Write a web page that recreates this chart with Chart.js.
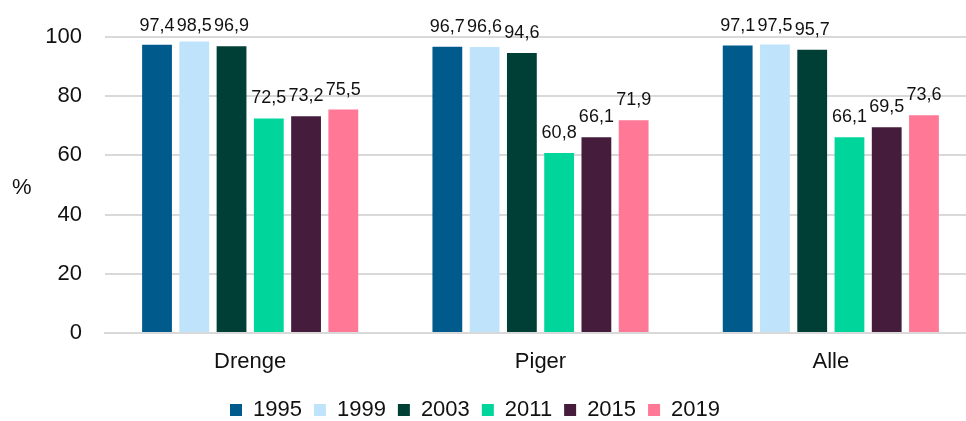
<!DOCTYPE html>
<html>
<head>
<meta charset="utf-8">
<script src="https://cdn.jsdelivr.net/npm/chart.js@4"></script>
<style>
  html,body{margin:0;padding:0;background:#fff;overflow:hidden;}
  #wrap{width:976px;height:421px;position:relative;}
</style>
</head>
<body>
<div id="wrap"><canvas id="chart"></canvas></div>
<script>
const categories = ['Drenge','Piger','Alle'];
const years = ['1995','1999','2003','2011','2015','2019'];
const v1995 = [97.4, 96.7, 97.1];
const v1999 = [98.5, 96.6, 97.5];
const v2003 = [96.9, 94.6, 95.7];
const v2011 = [72.5, 60.8, 66.1];
const v2015 = [73.2, 66.1, 69.5];
const v2019 = [75.5, 71.9, 73.6];
const colors = ['#005A8C','#BFE3FB','#003F35','#00D59B','#461C3C','#FF7896'];
const yTicks = [0,20,40,60,80,100];

const series = [v1995, v1999, v2003, v2011, v2015, v2019];
const FONT = '"Liberation Sans", Arial, sans-serif';

// etiquetas de valor encima de cada barra + titulo "%"
const valueLabels = {
  id:'valueLabels',
  afterLayout(chart){
    // la leyenda del original esta algo desplazada a la izquierda
    if(chart.legend) chart.legend.left -= 26;
  },
  afterDatasetsDraw(chart){
    const ctx = chart.ctx;
    ctx.save();
    ctx.font = '18px ' + FONT;
    ctx.fillStyle = '#111';
    ctx.textAlign = 'center';
    ctx.textBaseline = 'alphabetic';
    chart.data.datasets.forEach((ds,i)=>{
      chart.getDatasetMeta(i).data.forEach((bar,j)=>{
        const y = Math.max(bar.y - 15, 31);
        ctx.fillText(String(ds.data[j]).replace('.',','), bar.x, y);
      });
    });
    ctx.font = '22px ' + FONT;
    ctx.textAlign = 'left';
    ctx.textBaseline = 'middle';
    ctx.fillText('%', 12, 188);
    ctx.restore();
  }
};

new Chart(document.getElementById('chart'), {
  type:'bar',
  data:{
    labels: categories,
    datasets: years.map((y,i)=>({
      label:y,
      data:series[i],
      backgroundColor:colors[i],
      barPercentage:0.8,
      categoryPercentage:0.77
    }))
  },
  options:{
    responsive:true,
    maintainAspectRatio:false,
    animation:false,
    layout:{padding:{left:0,right:0,top:37,bottom:-10}},
    plugins:{
      legend:{
        position:'bottom',
        labels:{
          boxWidth:12, boxHeight:12, padding:12,
          color:'#111',
          font:{size:22, family:FONT}
        }
      },
      tooltip:{enabled:false}
    },
    scales:{
      x:{
        grid:{display:false, drawTicks:false},
        border:{color:'#d9d9d9', width:2},
        afterFit(axis){ axis.height = 54; },
        ticks:{color:'#111', padding:16, font:{size:22, family:FONT}}
      },
      y:{
        min:0, max:100,
        afterBuildTicks(axis){ axis.ticks = yTicks.map(v=>({value:v})); },
        afterFit(axis){ axis.width = 105; },
        grid:{color:'#d9d9d9', lineWidth:2, drawTicks:false},
        border:{display:false},
        ticks:{color:'#111', padding:23, font:{size:22, family:FONT}}
      }
    }
  },
  plugins:[valueLabels]
});
</script>
</body>
</html>
